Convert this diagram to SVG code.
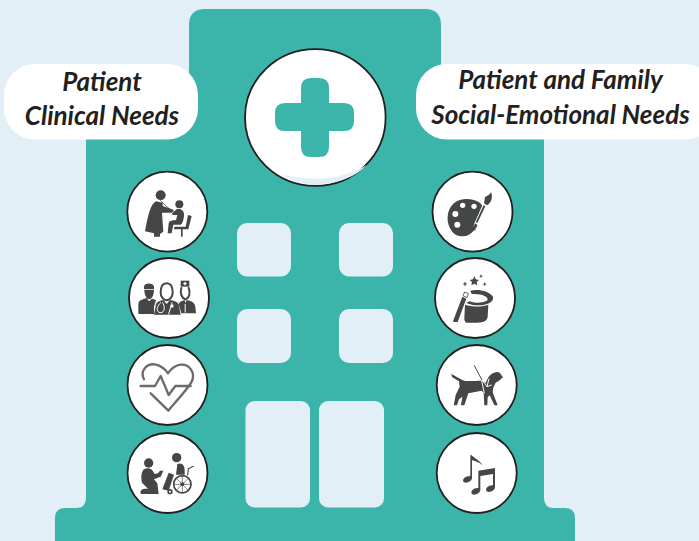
<svg xmlns="http://www.w3.org/2000/svg" width="699" height="541" viewBox="0 0 699 541">
<style>
.bg{fill:#e2eff7}
.teal{fill:#3bb4aa}
.ring{fill:#fff;stroke:#231f20;stroke-width:1.8}
.pill{fill:#fff}
.lab{font-family:"Lato","Carlito","Open Sans",sans-serif;font-weight:700;font-style:italic;font-size:26px;fill:#231f20;text-anchor:middle}
.ic{fill:#454746}
.icl{fill:none;stroke:#454746;stroke-linecap:round;stroke-linejoin:round}
.w{fill:#fff}
</style>
<rect class="bg" width="699" height="541"/>
<g id="building">
<path class="teal" d="M86 541V130H189V25Q189 9 205 9H425Q441 9 441 25V130H544V498Q544 508 554 508H565Q575 508 575 518V541H55V518Q55 508 65 508H76Q86 508 86 498Z"/>
<g class="bg">
<rect x="237" y="223" width="54" height="53.500" rx="10"/>
<rect x="339" y="223" width="54" height="53.500" rx="10"/>
<rect x="237" y="309" width="54" height="54" rx="10"/>
<rect x="339" y="309" width="54" height="54" rx="10"/>
<rect x="245.500" y="401" width="64.500" height="106.500" rx="9"/>
<rect x="319" y="401" width="65" height="106.500" rx="9"/>
</g>
</g>
<g id="emblem">
<ellipse class="ring" cx="315.300" cy="117.500" rx="70.300" ry="68.300"/>
<path class="bg" d="M281 174Q330 187 367 165Q350 183 315 184.800Q296 184 281 174Z"/>
<path class="teal" d="M311 78H319Q329 78 329 88V103H344Q354 103 354 113V121Q354 131 344 131H329V147Q329 157 319 157H311Q301 157 301 147V131H285Q275 131 275 121V113Q275 103 285 103H301V88Q301 78 311 78Z"/>
</g>
<g id="label-left">
<rect class="pill" x="4" y="64" width="194" height="75.500" rx="31"/>
<text class="lab" x="102" y="90.500">Patient</text>
<text class="lab" x="102" y="125">Clinical Needs</text>
</g>
<g id="label-right">
<rect class="pill" x="416" y="64" width="300" height="75.500" rx="31"/>
<text class="lab" x="560.500" y="89">Patient and Family</text>
<text class="lab" x="560.500" y="123.500">Social-Emotional Needs</text>
</g>
<g id="icon-examination">
<circle class="ring" cx="167.300" cy="211.700" r="40"/>
<g transform="translate(120 160) scale(.33333)">
<circle class="ic" cx="122" cy="106" r="15"/>
<path class="ic" d="M108 124C92 132 84 165 75 214L102 220V230H120V222L130 215L126 158L155 158L162 150L128 138L128 128Z"/>
<path class="icl" stroke-width="2.500" d="M122 122L140 140L160 155"/>
<circle class="ic" cx="178" cy="133" r="12"/>
<path class="ic" d="M170 148C182 144 194 152 192 168C190 182 188 190 182 194H160L155 220H143L146 190C148 180 158 182 168 180L172 165L158 165L156 160Z"/>
<path class="ic" d="M204 165L215 168L205 208H188V230H183V208H162L163 200H197Z"/>
</g>
</g>
<g id="icon-staff">
<circle class="ring" cx="169" cy="298" r="40"/>
<g transform="translate(120 160) scale(.33333)">
<path class="ic" d="M72 380C72 368 100 366 102 380L102 388H72ZM73 390H102C102 402 98 416 87 418C78 416 73 402 73 390Z"/>
<path class="ic" d="M55 462V432C56 420 68 418 80 414L87 424L96 416L108 420L102 440V462Z"/>
<path class="icl" stroke-width="6" d="M140 370C125 370 122 385 122 398C122 410 130 420 140 421C150 420 158 410 158 398C158 385 155 370 140 370Z"/>
<path class="ic" d="M102 464L108 432C112 424 122 422 130 420L140 432L150 420C160 422 170 424 176 432L182 464Z"/>
<path style="fill:none;stroke:#fff;stroke-linecap:round" stroke-width="3" d="M122 428C108 440 108 458 122 458C134 458 136 440 128 428M156 428L146 462"/>
<circle class="w" cx="156" cy="438" r="5"/>
<path class="ic" d="M182 362H208V380H182Z"/>
<path class="w" d="M193 366H197V369H200V373H197V376H193V373H190V369H193Z"/>
<path class="icl" stroke-width="6" d="M184 384C180 398 184 414 196 418C208 414 212 398 206 384"/>
<path class="ic" d="M176 432C180 424 188 422 194 420L196 430L200 420C208 422 216 424 220 428C226 432 227 445 228 460H184Z"/>
<rect class="w" x="194" y="432" width="3" height="26"/>
</g>
</g>
<g id="icon-heart">
<circle class="ring" cx="167.500" cy="385" r="40"/>
<g transform="translate(120 340) scale(.33333)">
<path d="M72 118C58 92 82 68 108 74C124 78 136 88 144 100C152 88 166 76 182 74C208 72 228 98 215 125C204 146 170 182 145 212L92 160M62 138H105L122 108L146 165L166 138H212" fill="none" stroke="#6a6c6b" stroke-width="7" stroke-linejoin="round" stroke-linecap="round"/>
</g>
</g>
<g id="icon-wheelchair">
<circle class="ring" cx="167.500" cy="473" r="40"/>
<g transform="translate(120 340) scale(.33333)">
<circle class="ic" cx="86" cy="369" r="14"/>
<path class="ic" d="M72 388C80 382 94 384 98 392L104 402L114 400L120 392L130 392L122 410L102 418L112 430L116 462H64C58 456 62 448 74 446H84L66 428C62 410 64 396 72 388Z"/>
<circle class="ic" cx="170" cy="353" r="14"/>
<path class="ic" d="M172 372C186 366 194 376 194 392V404H168Z"/>
<path class="ic" d="M146 398L162 404L146 452L127 448Z"/>
<circle class="ic" cx="150" cy="455" r="8"/>
<circle cx="150" cy="455" r="3" fill="#fff"/>
<path class="icl" stroke-width="3.500" d="M205 386L220 379M205 386L203 405"/>
<circle cx="187" cy="433" r="26" fill="none" stroke="#454746" stroke-width="5"/>
<path class="icl" stroke-width="2" d="M187 407V459M161 433H213M169 415L205 451M205 415L169 451"/>
<circle class="ic" cx="187" cy="433" r="6"/>
</g>
</g>
<g id="icon-palette">
<circle class="ring" cx="472.500" cy="211.700" r="40"/>
<g transform="translate(425 160) scale(.33333)">
<path class="ic" d="M68 170C70 140 90 118 122 117C150 116 170 128 172 140L148 190C144 200 148 206 154 208L146 212C130 232 110 232 92 224C76 214 66 190 68 170Z"/>
<circle class="w" cx="113" cy="136" r="8"/>
<circle class="w" cx="147" cy="139" r="8"/>
<circle class="w" cx="91" cy="162" r="9"/>
<circle class="w" cx="97" cy="194" r="9"/>
<path class="w" d="M172 136L182 142L158 192L150 188Z"/>
<path class="ic" d="M180 112C184 108 196 104 198 96C204 110 200 128 186 136L177 130Z"/>
<path class="ic" d="M176 136L181 139L157 189L152 187Z"/>
<path class="ic" d="M150 190L157 194C156 204 150 208 142 208C148 204 146 196 150 190Z"/>
</g>
</g>
<g id="icon-magic">
<circle class="ring" cx="475" cy="298" r="40"/>
<g transform="translate(425 160) scale(.33333)">
<path class="ic" d="M148 348L152 358L162 360L155 366L157 376L148 371L139 376L141 366L134 360L144 358Z"/>
<path class="ic" d="M168 342L170 347L174 348L170 350L168 354L166 350L162 348L166 347Z"/>
<path class="ic" d="M179 366L181 371L186 372L181 374L179 379L177 374L172 372L177 371Z"/>
<path class="ic" d="M120 364L122 370L127 371L122 374L120 380L118 374L113 371L118 370Z"/>
<path class="ic" d="M136 392C160 386 194 394 204 410C208 426 186 436 160 436C145 436 130 432 124 428L134 424C146 430 176 430 188 420C190 410 170 400 140 402Z"/>
<path class="ic" d="M120 434C140 440 170 442 190 434L188 470C186 486 170 488 150 488H124C119 486 118 480 118 474Z"/>
<path class="ic" d="M112 410L124 416L98 486H86L84 484Z"/>
<path class="w" d="M119 396L130 401L126 413L114 407Z"/>
<path d="M119 396L130 401L126 413L114 407Z" fill="none" stroke="#454746" stroke-width="2.500"/>
</g>
</g>
<g id="icon-dog">
<circle class="ring" cx="476.700" cy="385" r="40"/>
<g transform="translate(425 340) scale(.33333)">
<path class="ic" d="M78 101L112 120C124 126 150 122 168 122L182 128L190 112C198 100 214 92 224 98L234 112L222 122L212 128C206 140 202 146 204 160L218 196H208L194 166L188 172L187 196H178L176 158L170 152L130 160L118 196L108 196L112 170L102 178L96 196H86L92 165L104 140L102 124L82 112Z"/>
<path class="icl" stroke-width="3" d="M148 77L172 122"/>
<path style="fill:none;stroke:#fff" stroke-width="3" d="M192 116L186 140L172 120M170 122L178 160M186 140L200 135"/>
</g>
</g>
<g id="icon-music">
<circle class="ring" cx="476.700" cy="473" r="40"/>
<g transform="translate(425 340) scale(.33333)">
<path class="ic" d="M136 346H141V414C141 424 124 432 116 426C110 418 120 408 136 408Z"/>
<path class="ic" d="M140 346C150 356 166 362 172 376C166 368 152 364 140 360Z"/>
<path class="ic" d="M160 392L210 384V442C210 452 192 460 185 454C178 446 192 434 204 436V402L166 408V450C166 460 148 468 141 462C134 454 148 442 160 444Z"/>
</g>
</g>
</svg>
